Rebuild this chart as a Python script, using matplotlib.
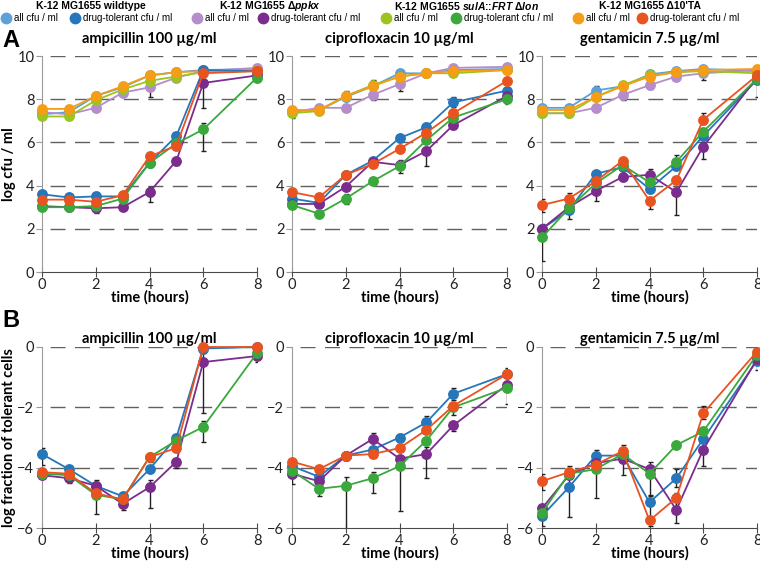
import matplotlib
matplotlib.use('Agg')
import matplotlib.pyplot as plt

plt.rcParams['mathtext.fontset'] = 'custom'
plt.rcParams['mathtext.it'] = 'Liberation Sans:italic:bold'
plt.rcParams['mathtext.rm'] = 'Liberation Sans:bold'

# time points (hours)
hours = [0, 1, 2, 3, 4, 5, 6, 8]

strains = ['wt', 'ppkx', 'lon', 'ta10']
strain_titles = ['K-12 MG1655 wildtype', r'K-12 MG1655 Δ$\mathit{ppkx}$',
                 r'K-12 MG1655 $\mathit{sulA}$::$\mathit{FRT}$ Δ$\mathit{lon}$', "K-12 MG1655 Δ10'TA"]
all_colors = {'wt': '#5ea0d8', 'ppkx': '#b58dca', 'lon': '#9cc41f', 'ta10': '#f59d16'}
tol_colors = {'wt': '#2576bb', 'ppkx': '#7b2c8d', 'lon': '#3aa83c', 'ta10': '#e9531f'}

drug_titles = ['ampicillin 100 µg/ml', 'ciprofloxacin 10 µg/ml', 'gentamicin 7.5 µg/ml']

# ---- panel A: log cfu / ml ----
amp_all = {'wt':   [7.3, 7.4, 8.15, 8.55, 9.1, 9.25, 9.35, 9.4],
           'ppkx': [7.4, 7.3, 7.6, 8.3, 8.55, 9.0, 9.3, 9.45],
           'lon':  [7.2, 7.2, 7.95, 8.45, 8.85, 9.05, 9.25, 9.3],
           'ta10': [7.55, 7.55, 8.15, 8.6, 9.1, 9.25, 9.3, 9.35]}
amp_tol = {'wt':   [3.6, 3.45, 3.5, 3.5, 5.05, 6.3, 9.35, 9.3],
           'ppkx': [3.05, 3.0, 2.95, 3.0, 3.7, 5.15, 8.75, 9.1],
           'lon':  [3.0, 3.0, 3.05, 3.4, 5.05, 5.95, 6.6, 9.0],
           'ta10': [3.35, 3.35, 3.25, 3.55, 5.35, 5.85, 9.2, 9.3]}
cip_all = {'wt':   [7.45, 7.5, 8.1, 8.6, 9.2, 9.2, 9.35, 9.4],
           'ppkx': [7.4, 7.6, 7.6, 8.2, 8.7, 9.2, 9.45, 9.5],
           'lon':  [7.35, 7.45, 8.15, 8.65, 9.05, 9.2, 9.2, 9.35],
           'ta10': [7.5, 7.5, 8.15, 8.6, 9.05, 9.2, 9.3, 9.35]}
cip_tol = {'wt':   [3.4, 3.2, 4.5, 5.15, 6.2, 6.7, 7.85, 8.4],
           'ppkx': [3.15, 3.15, 3.95, 5.1, 4.95, 5.6, 6.8, 8.15],
           'lon':  [3.1, 2.7, 3.4, 4.2, 4.9, 6.1, 7.15, 8.0],
           'ta10': [3.7, 3.45, 4.5, 5.0, 5.7, 6.45, 7.35, 8.85]}
gen_all = {'wt':   [7.6, 7.6, 8.4, 8.6, 9.15, 9.3, 9.4, 9.3],
           'ppkx': [7.35, 7.35, 7.6, 8.2, 8.65, 9.05, 9.2, 9.35],
           'lon':  [7.35, 7.35, 8.1, 8.65, 9.1, 9.25, 9.3, 9.2],
           'ta10': [7.5, 7.5, 8.1, 8.6, 9.05, 9.25, 9.35, 9.4]}
gen_tol = {'wt':   [2.0, 2.85, 4.55, 4.85, 3.85, 4.9, 6.3, 8.9],
           'ppkx': [2.0, 3.0, 3.75, 4.4, 4.5, 3.7, 5.8, 9.0],
           'lon':  [1.6, 2.95, 4.1, 4.95, 4.15, 5.1, 6.5, 8.95],
           'ta10': [3.1, 3.4, 4.2, 5.15, 3.3, 4.25, 7.05, 9.1]}

# ---- panel B: log fraction of tolerant cells ----
amp_frac = {'wt':   [-3.55, -4.05, -4.6, -4.95, -4.05, -3.0, -0.05, 0.0],
            'ppkx': [-4.25, -4.35, -4.6, -5.2, -4.65, -3.8, -0.5, -0.3],
            'lon':  [-4.2, -4.25, -4.9, -5.05, -3.65, -3.1, -2.65, -0.2],
            'ta10': [-4.15, -4.2, -4.85, -5.05, -3.65, -3.35, 0.0, 0.0]}
cip_frac = {'wt':   [-3.95, -4.3, -3.6, -3.4, -3.0, -2.5, -1.55, -0.9],
            'ppkx': [-4.2, -4.45, -3.6, -3.05, -3.7, -3.55, -2.6, -1.25],
            'lon':  [-4.1, -4.7, -4.6, -4.35, -3.95, -3.1, -2.0, -1.35],
            'ta10': [-3.8, -4.05, -3.6, -3.55, -3.35, -2.75, -1.95, -0.9]}
gen_frac = {'wt':   [-5.6, -4.65, -3.6, -3.6, -5.15, -4.35, -3.05, -0.45],
            'ppkx': [-5.35, -4.25, -3.85, -3.7, -4.05, -5.4, -3.4, -0.4],
            'lon':  [-5.5, -4.2, -4.05, -3.55, -4.2, -3.25, -2.8, -0.25],
            'ta10': [-4.45, -4.15, -3.9, -3.45, -5.75, -5.0, -2.2, -0.15]}

# error bars: (lower, upper); 0 means hidden behind the marker
amp_tol_err = {'ppkx': [0, 0, (0.2, 0.1), (0.1, 0.1), (0.45, 0.25), (0.2, 0.1), (1.15, 0.3), 0],
               'lon':  [0, 0, 0, 0, 0, 0, (1.0, 0.3), 0]}
amp_all_err = {'ppkx': [0, 0, (0.1, 0.1), 0, (0.45, 0.15), 0, 0, 0]}
cip_all_err = {'wt':   [(0.3, 0.1), 0, 0, 0, 0, 0, 0, 0],
               'ppkx': [0, 0, 0, (0.25, 0.15), (0.3, 0.1), 0, 0, 0],
               'lon':  [0, 0, (0.25, 0.25), (0.15, 0.25), 0, 0, 0, 0]}
cip_tol_err = {'wt':   [0, 0, 0, 0, 0, (0.1, 0.2), (0.2, 0.25), 0],
               'ppkx': [0, 0, 0, 0, (0.35, 0.25), (0.7, 0.2), (0.2, 0.1), 0],
               'lon':  [0, (0.15, 0.1), (0.25, 0.2), 0, 0, 0, 0, (0.2, 0.1)]}
gen_all_err = {'wt':   [0, 0, (0.2, 0.2), 0, 0, 0, 0, 0],
               'ppkx': [0, 0, 0, (0.25, 0.1), (0.2, 0.1), 0, (0.3, 0.1), 0],
               'ta10': [(0.25, 0.1), (0.25, 0.1), 0, 0, 0, 0, 0, 0]}
gen_tol_err = {'wt':   [0, (0.4, 0.2), 0, 0, 0, 0, 0, (0.8, 0.2)],
               'ppkx': [(0.2, 0.2), 0, (0.45, 0.2), (0.15, 0.1), (0.15, 0.25), (1.05, 0.2), (0.55, 0.2), 0],
               'lon':  [(1.1, 0.4), 0, 0, 0, 0, (0.2, 0.3), 0, 0],
               'ta10': [(0.3, 0.3), (0.2, 0.25), 0, 0, (0.4, 0.1), 0, (0.2, 0.3), 0]}
amp_frac_err = {'wt':   [(0.35, 0.2), 0, 0, 0, 0, 0, 0, 0],
                'ppkx': [0, 0, (0.1, 0.2), (0.2, 0.1), (0.7, 0.25), (0.2, 0.1), (1.7, 0.3), (0.2, 0.1)],
                'lon':  [0, 0, (0.65, 0.1), 0, 0, 0, (0.5, 0.2), 0],
                'ta10': [0, (0.3, 0.1), 0, 0, (0.15, 0.1), 0, 0, 0]}
cip_frac_err = {'wt':   [0, 0, 0, 0, (0.1, 0.1), (0.15, 0.2), (0.2, 0.2), (0.1, 0.2)],
                'ppkx': [(0.35, 0.1), 0, 0, (0.25, 0.2), 0, (0.8, 0.25), (0.2, 0.1), 0],
                'lon':  [0, (0.25, 0.1), (2.0, 0.3), (0.5, 0.2), (1.5, 0.3), 0, 0, (0.55, 0.2)],
                'ta10': [0, 0, 0, 0, 0, 0, (0.3, 0.1), 0]}
gen_frac_err = {'wt':   [(0.35, 0.3), (1.0, 0.35), (0.2, 0.2), 0, (0.6, 0.2), (0.3, 0.3), (0.3, 0.2), 0],
                'ppkx': [0, 0, 0, (0.55, 0.2), (0.2, 0.25), (0.45, 0.3), (0.55, 0.3), (0.35, 0.2)],
                'lon':  [0, 0, (0.95, 0.2), 0, (0.7, 0.2), 0, 0, (0.2, 0.25)],
                'ta10': [(0.3, 0.25), (0.1, 0.2), 0, (0.2, 0.2), (0.2, 0.1), (0.3, 0.15), (0.2, 0.25), 0]}

W, H = 760, 565
BODY = 'Lato'
fig = plt.figure(figsize=(W / 100, H / 100), dpi=100)


def px_axes(left, top, right, bottom):
    return fig.add_axes([left / W, 1 - bottom / H, (right - left) / W, (bottom - top) / H])


def split_err(err):
    lo = [e[0] if isinstance(e, tuple) else e for e in err]
    hi = [e[1] if isinstance(e, tuple) else e for e in err]
    return [lo, hi]


def draw_series(ax, values, errs, colors, z):
    for s in strains:
        if s in errs:
            ax.errorbar(hours, values[s], yerr=split_err(errs[s]), fmt='none',
                        ecolor='#222222', elinewidth=1.0, capsize=1.8, capthick=1.0, zorder=z)
    for s in strains:
        ax.plot(hours, values[s], color=colors[s], lw=1.3, marker='o', ms=6.8,
                zorder=z + 1, clip_on=False)


def style_axes(ax, ylim, yticks, title, ylabel, title_pad):
    ax.set_xlim(0, 8)
    ax.set_ylim(*ylim)
    ax.set_xticks([0, 2, 4, 6, 8])
    ax.set_yticks(yticks)
    for side in ['top', 'right']:
        ax.spines[side].set_visible(False)
    ax.spines['left'].set_color('#9a9a9a')
    ax.spines['bottom'].set_color('#4a4a4a')
    ax.tick_params(axis='y', direction='out', length=4, colors='#9a9a9a', labelcolor='#222222',
                   labelsize=10.5, pad=1.5)
    ax.tick_params(axis='x', direction='inout', length=7, colors='#4a4a4a', labelcolor='#222222',
                   labelsize=10.5, pad=0.5)
    for lab in ax.get_xticklabels() + ax.get_yticklabels():
        lab.set_family(BODY)
    for yv in yticks[1:]:
        ax.axhline(yv, color='#606060', lw=1.0, linestyle=(11.8, (10.8, 6.8)), zorder=0)
    ax.set_title(title, fontsize=10.5, fontweight='bold', family=BODY, pad=title_pad)
    ax.set_xlabel('time (hours)', fontsize=10.5, fontweight='bold', family=BODY, labelpad=-1)
    if ylabel:
        ax.set_ylabel(ylabel, fontsize=10.5, fontweight='bold', family=BODY, labelpad=1)


lefts = [42, 292, 542]
a_sets = [(amp_all, amp_all_err, amp_tol, amp_tol_err),
          (cip_all, cip_all_err, cip_tol, cip_tol_err),
          (gen_all, gen_all_err, gen_tol, gen_tol_err)]
b_sets = [(amp_frac, amp_frac_err), (cip_frac, cip_frac_err), (gen_frac, gen_frac_err)]

for i, left in enumerate(lefts):
    ax = px_axes(left, 56, left + 215, 272)
    all_vals, all_err, tol_vals, tol_err = a_sets[i]
    draw_series(ax, all_vals, all_err, all_colors, 3)
    draw_series(ax, tol_vals, tol_err, tol_colors, 5)
    style_axes(ax, (0, 10), [0, 2, 4, 6, 8, 10], drug_titles[i],
               'log cfu / ml' if i == 0 else None, 9)

    bx = px_axes(left, 347, left + 215, 528)
    frac_vals, frac_err = b_sets[i]
    draw_series(bx, frac_vals, frac_err, tol_colors, 5)
    style_axes(bx, (-6, 0), [-6, -4, -2, 0], drug_titles[i],
               'log fraction of tolerant cells' if i == 0 else None, 3)

# legend strip and panel letters, drawn in pixel coordinates
lax = fig.add_axes([0, 0, 1, 1], zorder=-1)
lax.set_xlim(0, W)
lax.set_ylim(H, 0)
lax.axis('off')

title_x = [91, 270, 467, 650]
all_mx = [6, 197, 386, 578]
tol_mx = [75, 263, 456, 642]
for k, s in enumerate(strains):
    lax.text(title_x[k], 6, strain_titles[k], ha='center', va='center', fontsize=7.5,
             fontweight='bold', family='Liberation Sans')
    lax.plot([all_mx[k]], [18], 'o', color=all_colors[s], ms=7.5)
    lax.text(all_mx[k] + 8, 18, 'all cfu / ml', ha='left', va='center', fontsize=7,
             family='Liberation Sans')
    lax.plot([tol_mx[k]], [18], 'o', color=tol_colors[s], ms=7.5)
    lax.text(tol_mx[k] + 8, 18, 'drug-tolerant cfu / ml', ha='left', va='center', fontsize=7,
             family='Liberation Sans')

lax.text(2, 47, 'A', fontsize=17, fontweight='bold', family='Liberation Sans', va='baseline')
lax.text(2, 327, 'B', fontsize=17, fontweight='bold', family='Liberation Sans', va='baseline')

fig.savefig('out.png', dpi=100)
